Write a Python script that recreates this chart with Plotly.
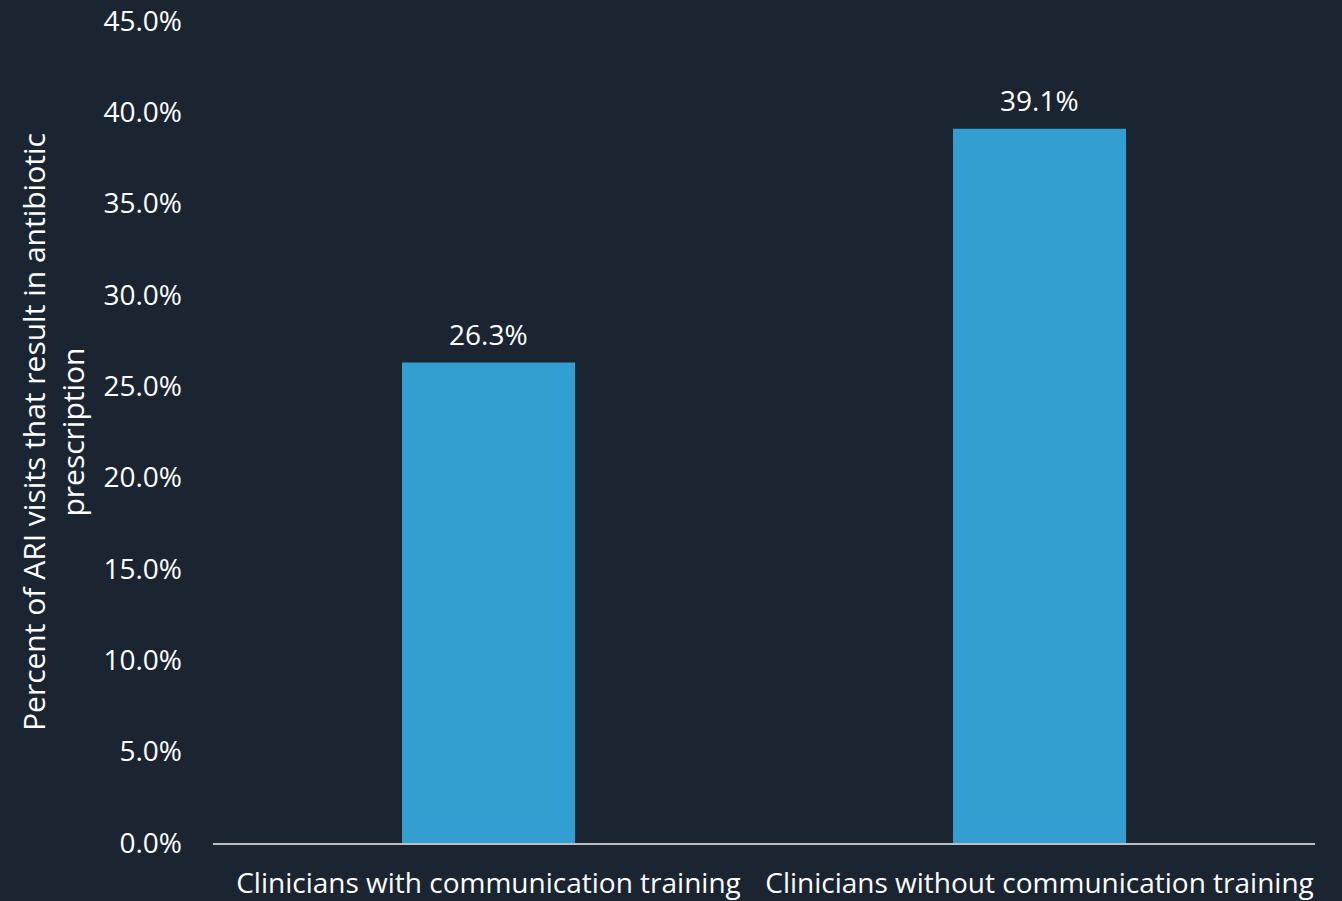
import plotly.graph_objects as go

categories = ["Clinicians with communication training", "Clinicians without communication training"]
values = [26.3, 39.1]
tick_vals = [0, 5, 10, 15, 20, 25, 30, 35, 40, 45]
tick_text = [f"{v:.1f}%" for v in tick_vals]
y_title = "Percent of ARI visits that result in antibiotic<br>prescription"

BG = "#1b2532"
BAR = "#339fd0"
FONT = "Open Sans"

fig = go.Figure()
fig.add_trace(go.Bar(x=categories, y=values, marker=dict(color=BAR, line=dict(width=0)),
                     width=0.314, hoverinfo="skip"))

for c, v in zip(categories, values):
    fig.add_annotation(x=c, y=v, text=f"{v:.1f}%", showarrow=False, yanchor="bottom",
                       yshift=8, font=dict(family=FONT, size=28, color="#ffffff"))

fig.add_annotation(xref="paper", yref="paper", x=0, y=0.5, xshift=-160, text=y_title,
                   textangle=-90, showarrow=False, xanchor="center", yanchor="middle",
                   font=dict(family=FONT, size=30, color="#ffffff"))

fig.update_layout(
    width=1342, height=901,
    margin=dict(l=213, r=27, t=21, b=58, autoexpand=False),
    paper_bgcolor=BG, plot_bgcolor=BG,
    showlegend=False,
    font=dict(family=FONT, size=28, color="#ffffff"),
    xaxis=dict(showgrid=False, showline=True, linecolor="#bfbfbf", linewidth=2,
               ticks="", tickfont=dict(size=28), ticklabelstandoff=14, zeroline=False,
               automargin=False),
    yaxis=dict(range=[0, 45], tickvals=tick_vals, ticktext=tick_text, showgrid=False,
               showline=False, zeroline=False, ticks="", tickfont=dict(size=28),
               ticklabelstandoff=30, automargin=False),
)

fig.write_html("out.html")
